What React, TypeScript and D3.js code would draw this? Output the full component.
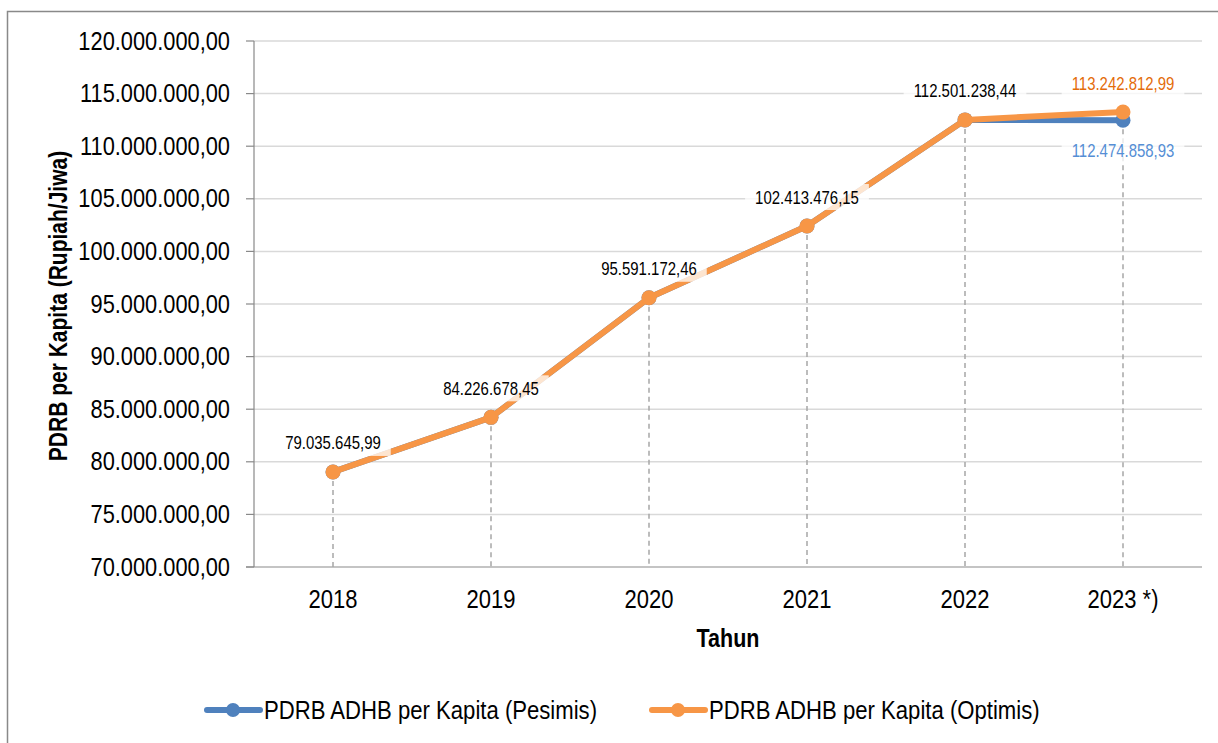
import { useEffect, useRef } from 'react';
import * as d3 from 'd3';

// category labels along the x axis
const tahun = ['2018', '2019', '2020', '2021', '2022', '2023 *)'];
// PDRB ADHB per kapita (Rupiah/Jiwa)
const pesimis = [79035645.99, 84226678.45, 95591172.46, 102413476.15, 112501238.44, 112474858.93];
const optimis = [79035645.99, 84226678.45, 95591172.46, 102413476.15, 112501238.44, 113242812.99];
const yTicks = [70000000, 75000000, 80000000, 85000000, 90000000, 95000000, 100000000, 105000000, 110000000, 115000000, 120000000];

const BLUE = '#4f81bd';
const ORANGE = '#f79646';
// no narrow font installed, so text is squeezed horizontally instead
const FONT = "'Liberation Sans', Arial, sans-serif";

// 1234567.89 -> "1.234.567,89"
const fmtId = (v: number) => {
  const [i, f] = v.toFixed(2).split('.');
  return i.replace(/\B(?=(\d{3})+(?!\d))/g, '.') + ',' + f;
};

type Sel = d3.Selection<any, any, any, any>;

// text condensed along its own direction
function narrowText(parent: Sel, x: number, y: number, str: string, opts: {
  size: number; sx: number; anchor?: string; weight?: string; fill?: string; rotate?: number;
}) {
  const g = parent.append('g')
    .attr('transform', `translate(${x},${y}) rotate(${opts.rotate ?? 0}) scale(${opts.sx},1)`);
  return g.append('text')
    .attr('x', 0).attr('y', 0)
    .attr('text-anchor', opts.anchor ?? 'start')
    .attr('font-family', FONT)
    .attr('font-size', opts.size)
    .attr('font-weight', opts.weight ?? 'normal')
    .attr('fill', opts.fill ?? '#000')
    .text(str);
}

function LineChart() {
  const svgRef = useRef<SVGSVGElement>(null);

  useEffect(() => {
    if (!svgRef.current) return;
    const svg = d3.select(svgRef.current);
    svg.selectAll('*').remove();

    const width = 1218;
    const height = 743;
    const left = 254, right = 1202, top = 41, bottom = 567;

    const x = d3.scalePoint<string>().domain(tahun).range([left, right]).padding(0.5);
    const y = d3.scaleLinear().domain([70000000, 120000000]).range([bottom, top]);

    // outer chart border (runs off the right and bottom edges)
    svg.append('rect')
      .attr('x', 7.5).attr('y', 11.5)
      .attr('width', width + 20).attr('height', height + 20)
      .attr('fill', 'white').attr('stroke', '#898989').attr('stroke-width', 1.5);

    // gridlines
    svg.append('g').selectAll('line')
      .data(yTicks.slice(1))
      .join('line')
      .attr('x1', left).attr('x2', right)
      .attr('y1', d => y(d)).attr('y2', d => y(d))
      .attr('stroke', '#d9d9d9').attr('stroke-width', 1.5);

    // y axis
    const yAxis = svg.append('g');
    yAxis.append('line')
      .attr('x1', left).attr('x2', left).attr('y1', top).attr('y2', bottom)
      .attr('stroke', '#898989').attr('stroke-width', 1.2);
    yAxis.selectAll('line.tick')
      .data(yTicks)
      .join('line')
      .attr('class', 'tick')
      .attr('x1', left - 8).attr('x2', left)
      .attr('y1', d => y(d)).attr('y2', d => y(d))
      .attr('stroke', '#898989').attr('stroke-width', 1.2);
    yTicks.forEach(t => {
      narrowText(yAxis, 230, y(t) + 8.5, fmtId(t), { size: 25, sx: 0.873, anchor: 'end' });
    });

    // x axis
    svg.append('line')
      .attr('x1', left - 8).attr('x2', right).attr('y1', bottom).attr('y2', bottom)
      .attr('stroke', '#898989').attr('stroke-width', 1.2);
    const xAxis = svg.append('g');
    tahun.forEach(t => {
      narrowText(xAxis, x(t)!, 608, t, { size: 25, sx: 0.88, anchor: 'middle' });
    });

    // drop lines
    svg.append('g').selectAll('line')
      .data(tahun)
      .join('line')
      .attr('x1', d => x(d)!).attr('x2', d => x(d)!)
      .attr('y1', (d, i) => y(Math.min(pesimis[i], optimis[i]))).attr('y2', bottom)
      .attr('stroke', '#a6a6a6').attr('stroke-width', 1.5)
      .attr('stroke-dasharray', '5,4');

    const line = d3.line<number>().x((d, i) => x(tahun[i])!).y(d => y(d));

    [[pesimis, BLUE], [optimis, ORANGE]].forEach(([vals, color]) => {
      const v = vals as number[];
      svg.append('path')
        .datum(v)
        .attr('d', line)
        .attr('fill', 'none')
        .attr('stroke', color as string)
        .attr('stroke-width', 6)
        .attr('stroke-linejoin', 'round');
      svg.append('g').selectAll('circle')
        .data(v)
        .join('circle')
        .attr('cx', (d, i) => x(tahun[i])!)
        .attr('cy', d => y(d))
        .attr('r', 7.5)
        .attr('fill', color as string);
    });

    // data labels with a translucent white box
    const labels = [
      ...optimis.slice(0, 5).map((v, i) => ({ cat: tahun[i], v, dy: -29, color: '#000' })),
      { cat: tahun[5], v: optimis[5], dy: -28.5, color: '#e46c0a' },
      { cat: tahun[5], v: pesimis[5], dy: 30, color: '#558ed5' },
    ];
    const sxLabel = 0.83;
    labels.forEach(l => {
      const cx = x(l.cat)!;
      const cy = y(l.v) + l.dy;
      const g = svg.append('g');
      const rect = g.append('rect').attr('fill', 'white').attr('fill-opacity', 0.75);
      const t = narrowText(g, cx, cy + 6.5, fmtId(l.v), { size: 18, sx: sxLabel, anchor: 'middle', fill: l.color });
      const w = (t.node() as SVGTextElement).getComputedTextLength() * sxLabel;
      rect.attr('x', cx - w / 2 - 10).attr('y', cy - 13).attr('width', w + 20).attr('height', 26);
    });

    // axis titles
    narrowText(svg, 67, 306, 'PDRB per Kapita (Rupiah/Jiwa)', {
      size: 25, sx: 0.84, anchor: 'middle', weight: 'bold', rotate: -90,
    });
    narrowText(svg, (left + right) / 2, 647, 'Tahun', { size: 25, sx: 0.86, anchor: 'middle', weight: 'bold' });

    // legend
    const legend = [
      { name: 'PDRB ADHB per Kapita (Pesimis)', color: BLUE, x0: 205 },
      { name: 'PDRB ADHB per Kapita (Optimis)', color: ORANGE, x0: 650 },
    ];
    legend.forEach(l => {
      const g = svg.append('g').attr('transform', `translate(${l.x0},710)`);
      g.append('line').attr('x1', 2).attr('x2', 55).attr('y1', 0).attr('y2', 0)
        .attr('stroke', l.color).attr('stroke-width', 6).attr('stroke-linecap', 'round');
      g.append('circle').attr('cx', 28).attr('cy', 0).attr('r', 7).attr('fill', l.color);
      narrowText(g, 59, 9, l.name, { size: 25, sx: 0.885 });
    });
  }, []);

  return <svg ref={svgRef} width={1218} height={743} style={{ position: 'absolute', left: 0, top: 0 }}></svg>;
}

export default function App() {
  return <LineChart />;
}
